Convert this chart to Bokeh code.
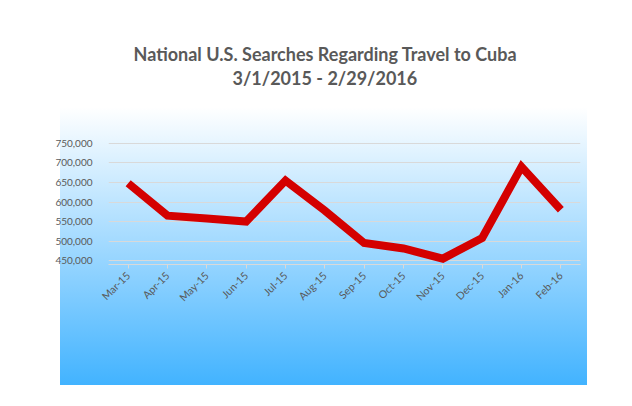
from bokeh.plotting import figure
from bokeh.models import FactorRange, Range1d, FixedTicker, NumeralTickFormatter, Title
from bokeh.embed import file_html
from bokeh.resources import INLINE

months = ["Mar-15", "Apr-15", "May-15", "Jun-15", "Jul-15", "Aug-15",
          "Sep-15", "Oct-15", "Nov-15", "Dec-15", "Jan-16", "Feb-16"]
searches = [648000, 565000, 558000, 550000, 655000, 578000,
            495000, 481000, 455000, 508000, 690000, 580000]
y_ticks = [450000, 500000, 550000, 600000, 650000, 700000, 750000]
title_line1 = "National U.S. Searches Regarding Travel to Cuba"
title_line2 = "3/1/2015 - 2/29/2016"

p = figure(width=616, height=390, output_backend="svg", toolbar_location=None,
           x_range=FactorRange(factors=months), y_range=Range1d(440000, 760000),
           min_border_left=108, min_border_right=36, min_border_top=139,
           min_border_bottom=126)

p.background_fill_color = None
p.border_fill_color = None
p.outline_line_color = None
p.styles = {"background": "linear-gradient(#ffffff, #42b3ff) 60px 107px / 527px 278px no-repeat"}

def style_title(t):
    t.align = "left"
    t.text_font = "Lato"
    t.text_font_size = "18px"
    t.text_font_style = "bold"
    t.text_color = "#595959"

p.title.text = title_line1
style_title(p.title)
p.title.standoff = 0
p.title.offset = 25

spacer = Title(text=" ")
style_title(spacer)
spacer.standoff = 27
p.add_layout(spacer, "above")

t2 = Title(text=title_line2)
style_title(t2)
t2.standoff = 0
t2.offset = 124
p.add_layout(t2, "above")

p.line(x=months, y=searches, line_color="#d40000", line_width=8, line_join="miter")

p.yaxis.ticker = FixedTicker(ticks=y_ticks)
p.yaxis.formatter = NumeralTickFormatter(format="0,0")
p.yaxis.axis_line_color = None
p.yaxis.major_tick_line_color = None
p.yaxis.minor_tick_line_color = None
p.yaxis.major_label_standoff = 10
p.yaxis.major_label_text_font = "Lato"
p.yaxis.major_label_text_font_size = "10px"
p.yaxis.major_label_text_color = "#595959"

p.xaxis.axis_line_color = "#d9d9d9"
p.xaxis.major_tick_line_color = "#d9d9d9"
p.xaxis.major_tick_out = 4
p.xaxis.major_tick_in = 0
p.xaxis.major_label_orientation = 0.785
p.xaxis.major_label_text_font = "Lato"
p.xaxis.major_label_text_font_size = "10.5px"
p.xaxis.major_label_text_color = "#595959"

p.xgrid.grid_line_color = None
p.ygrid.grid_line_color = "#d9d9d9"
p.ygrid.grid_line_width = 1

open("out.html", "w").write(file_html(p, INLINE))
